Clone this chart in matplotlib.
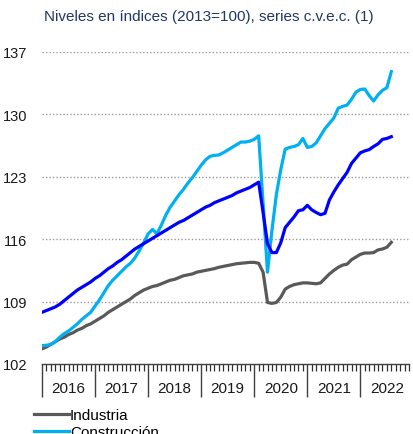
import matplotlib
matplotlib.use("Agg")
import matplotlib.pyplot as plt
import matplotlib.transforms as mtransforms
import numpy as np

plt.rcParams['font.family'] = ['Liberation Sans', 'DejaVu Sans']

title = "Niveles en índices (2013=100), series c.v.e.c. (1)"
years = ["2016", "2017", "2018", "2019", "2020", "2021", "2022"]
series_names = ["Industria", "Construcción", "Servicios"]

# Monthly values, Jan 2016 - Aug 2022
industria = [
    103.7, 103.9, 104.2, 104.5, 104.8, 105.0, 105.3, 105.5, 105.8, 106.0, 106.3, 106.5,
    106.8, 107.1, 107.4, 107.8, 108.1, 108.4, 108.7, 109.0, 109.3, 109.7, 110.0, 110.3,
    110.5, 110.7, 110.8, 111.0, 111.2, 111.4, 111.5, 111.7, 111.9, 112.0, 112.1, 112.3,
    112.4, 112.5, 112.6, 112.7, 112.85, 112.95, 113.05, 113.15, 113.25, 113.3, 113.35, 113.4,
    113.4, 113.3, 112.3, 108.9, 108.8, 108.9, 109.5, 110.4, 110.7, 110.9, 111.0, 111.1,
    111.1, 111.05, 111.0, 111.1, 111.6, 112.1, 112.5, 112.85, 113.1, 113.2, 113.7, 114.0,
    114.3, 114.45, 114.45, 114.5, 114.8, 114.9, 115.1, 115.65,
]
construccion = [
    104.05, 104.1, 104.2, 104.5, 105.0, 105.4, 105.7, 106.1, 106.5, 107.0, 107.4, 107.8,
    108.5, 109.2, 110.0, 110.8, 111.4, 111.9, 112.4, 112.9, 113.3, 113.9, 114.7, 115.6,
    116.6, 117.1, 116.6, 117.6, 118.7, 119.6, 120.3, 121.0, 121.6, 122.3, 122.9, 123.6,
    124.3, 124.9, 125.3, 125.4, 125.45, 125.7, 126.0, 126.3, 126.6, 126.9, 126.9, 127.0,
    127.2, 127.6, 120.0, 112.3, 117.0, 121.0, 123.8, 126.1, 126.3, 126.4, 126.6, 127.3,
    126.3, 126.4, 126.8, 127.6, 128.4, 129.0, 129.6, 130.7, 130.9, 131.05, 131.7, 132.5,
    132.8, 132.85, 132.1, 131.5, 132.2, 132.7, 133.0, 134.8,
]
servicios = [
    107.8, 108.0, 108.2, 108.4, 108.7, 109.1, 109.5, 109.9, 110.3, 110.6, 110.9, 111.2,
    111.6, 111.9, 112.3, 112.7, 113.0, 113.4, 113.7, 114.1, 114.5, 114.9, 115.2, 115.5,
    115.8, 116.1, 116.4, 116.7, 117.0, 117.3, 117.6, 117.9, 118.1, 118.4, 118.7, 119.0,
    119.3, 119.6, 119.8, 120.1, 120.3, 120.5, 120.7, 120.9, 121.2, 121.4, 121.6, 121.8,
    122.1, 122.4, 119.0, 115.5, 114.5, 114.5, 115.6, 117.3, 117.9, 118.5, 119.2, 119.3,
    119.8, 119.3, 119.0, 118.75, 118.9, 120.4, 121.3, 122.1, 122.8, 123.5, 124.5, 125.1,
    125.7, 125.9, 126.05, 126.4, 126.7, 127.2, 127.3, 127.5,
]
yticks = [102, 109, 116, 123, 130, 137]

colors = ["#595959", "#00B0F0", "#0000FF"]

W, H = 414, 435
fig = plt.figure(figsize=(W / 100, H / 100), dpi=100)
ax = fig.add_axes([42 / W, (H - 365) / H, (409 - 42) / W, (365 - 53) / H])

x = np.arange(len(industria))
for vals, c, name in zip([industria, construccion, servicios], colors, series_names):
    ax.plot(x, vals, color=c, lw=2.3, label=name, solid_joinstyle='round', zorder=3)

ax.set_xlim(0, 83)
ax.set_ylim(102, 137)
ax.set_yticks(yticks)
ax.set_yticklabels([str(v) for v in yticks], fontsize=10.5, color="#1a1a1a")
ax.tick_params(axis='y', length=0, pad=10.5)
for v in yticks[1:]:
    ax.axhline(v, color="#9a9a9a", lw=1.0, linestyle=(0, (1, 1.5)), zorder=1)

for s in ["top", "right", "left"]:
    ax.spines[s].set_visible(False)
ax.spines["bottom"].set_color("#404040")
ax.spines["bottom"].set_linewidth(1.0)

ax.set_xticks(np.arange(0, 84, 12))
ax.set_xticks(np.arange(0, 84, 1), minor=True)
ax.set_xticklabels([])
ax.tick_params(axis='x', which='major', length=24, width=1.0, color="#404040", direction='out')
ax.tick_params(axis='x', which='minor', length=5, width=0.9, color="#303030", direction='out')

trans = mtransforms.blended_transform_factory(ax.transData, ax.transAxes)
for k, yr in enumerate(years):
    ax.text(6 + 12 * k, -24 / 312, yr, transform=trans, ha='center', va='center',
            fontsize=11, color="#1a1a1a")

fig.text(209 / W, 1 - 17 / H, title, ha='center', va='center', fontsize=11, color="#1F3864")

fig.legend(loc='upper left', bbox_to_anchor=(34 / W, (H - 409) / H), frameon=False,
           fontsize=11, handlelength=2.3, handletextpad=0.05, labelspacing=0.2,
           borderpad=0, borderaxespad=0)

fig.savefig("out.png", dpi=100)
